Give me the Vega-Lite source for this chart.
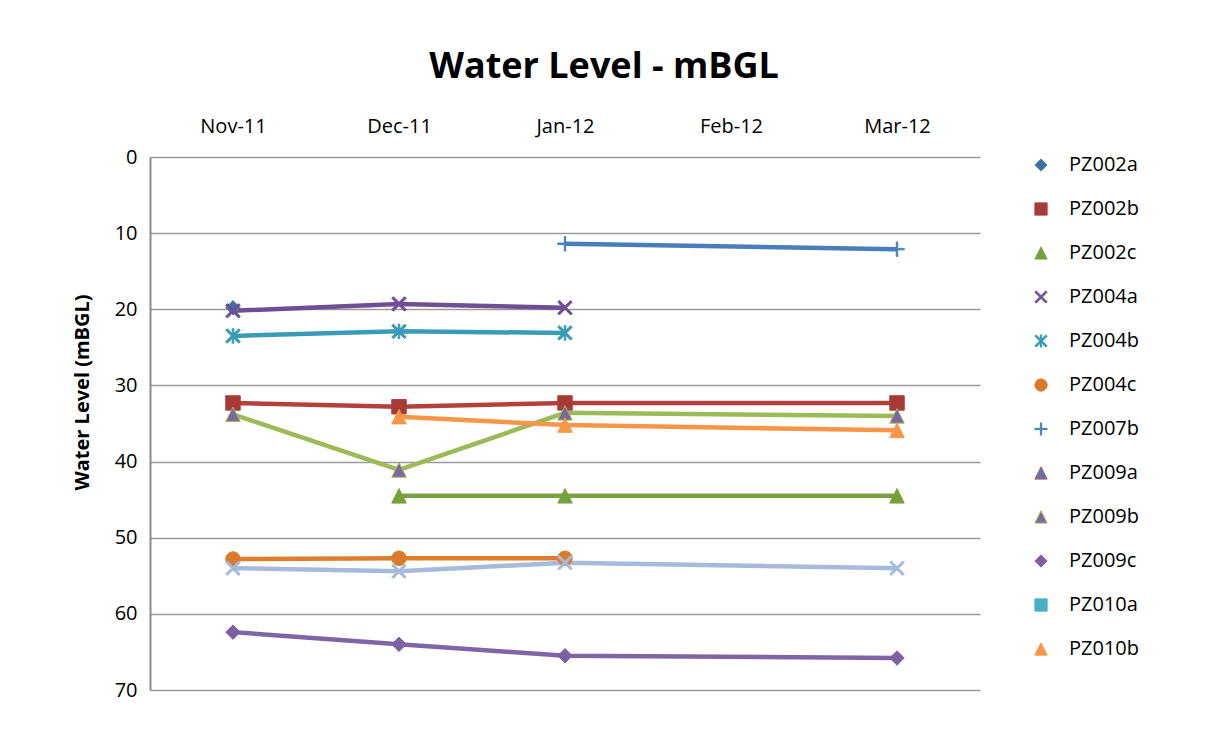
{
  "$schema": "https://vega.github.io/schema/vega-lite/v6.json",
  "width": 830,
  "height": 533,
  "autosize": {"type": "none"},
  "padding": {"left": 150, "top": 157, "right": 234, "bottom": 59},
  "background": "white",
  "title": {"text": "Water Level - mBGL", "fontSize": 36, "font": "Open Sans", "fontWeight": "bold", "color": "#000000", "anchor": "middle", "frame": "group", "dx": 39, "offset": 30},
  "config": {"view": {"stroke": null}, "font": "Open Sans"},
  "data": {"values": [
    {"well": "PZ002a", "month": "Nov-11", "level": 19.8},
    {"well": "PZ002b", "month": "Nov-11", "level": 32.3},
    {"well": "PZ002b", "month": "Dec-11", "level": 32.8},
    {"well": "PZ002b", "month": "Jan-12", "level": 32.3},
    {"well": "PZ002b", "month": "Mar-12", "level": 32.3},
    {"well": "PZ002c", "month": "Dec-11", "level": 44.5},
    {"well": "PZ002c", "month": "Jan-12", "level": 44.5},
    {"well": "PZ002c", "month": "Mar-12", "level": 44.5},
    {"well": "PZ004a", "month": "Nov-11", "level": 20.2},
    {"well": "PZ004a", "month": "Dec-11", "level": 19.3},
    {"well": "PZ004a", "month": "Jan-12", "level": 19.8},
    {"well": "PZ004b", "month": "Nov-11", "level": 23.5},
    {"well": "PZ004b", "month": "Dec-11", "level": 22.9},
    {"well": "PZ004b", "month": "Jan-12", "level": 23.1},
    {"well": "PZ004c", "month": "Nov-11", "level": 52.8},
    {"well": "PZ004c", "month": "Dec-11", "level": 52.7},
    {"well": "PZ004c", "month": "Jan-12", "level": 52.7},
    {"well": "PZ007b", "month": "Jan-12", "level": 11.4},
    {"well": "PZ007b", "month": "Mar-12", "level": 12.1},
    {"well": "PZ009b", "month": "Nov-11", "level": 33.8},
    {"well": "PZ009b", "month": "Dec-11", "level": 41.1},
    {"well": "PZ009b", "month": "Jan-12", "level": 33.6},
    {"well": "PZ009b", "month": "Mar-12", "level": 34.0},
    {"well": "PZ009c", "month": "Nov-11", "level": 62.4},
    {"well": "PZ009c", "month": "Dec-11", "level": 64.0},
    {"well": "PZ009c", "month": "Jan-12", "level": 65.5},
    {"well": "PZ009c", "month": "Mar-12", "level": 65.8},
    {"well": "PZ010b", "month": "Dec-11", "level": 34.1},
    {"well": "PZ010b", "month": "Jan-12", "level": 35.2},
    {"well": "PZ010b", "month": "Mar-12", "level": 35.9},
    {"well": "PZ010c", "month": "Nov-11", "level": 54.0},
    {"well": "PZ010c", "month": "Dec-11", "level": 54.4},
    {"well": "PZ010c", "month": "Jan-12", "level": 53.3},
    {"well": "PZ010c", "month": "Mar-12", "level": 54.0}
  ]},
  "encoding": {
    "x": {
      "field": "month", "type": "ordinal",
      "sort": ["Nov-11", "Dec-11", "Jan-12", "Feb-12", "Mar-12"],
      "scale": {"type": "point", "domain": ["Nov-11", "Dec-11", "Jan-12", "Feb-12", "Mar-12"], "padding": 0.5},
      "axis": {"orient": "top", "title": null, "labelAngle": 0, "labelFontSize": 20, "labelColor": "#000000", "ticks": false, "domain": false, "labelPadding": 21, "grid": false}
    },
    "y": {
      "field": "level", "type": "quantitative",
      "scale": {"domain": [0, 70], "reverse": true, "nice": false},
      "axis": {"values": [0, 10, 20, 30, 40, 50, 60, 70], "title": "Water Level (mBGL)", "titleFontSize": 20, "titleFontWeight": "bold", "titleColor": "#000000", "labelFontSize": 20, "labelColor": "#000000", "ticks": false, "labelPadding": 13, "domainColor": "#8c8c8c", "domainWidth": 2, "gridColor": "#9a9a9a", "gridWidth": 1.5, "titleX": -58, "titleY": 235}
    }
  },
  "layer": [
    {
      "mark": {"type": "line", "strokeWidth": 4.5},
      "encoding": {
        "stroke": {
          "field": "well", "type": "nominal",
          "scale": {
            "domain": ["PZ002a", "PZ002b", "PZ002c", "PZ004a", "PZ004b", "PZ004c", "PZ007b", "PZ009a", "PZ009b", "PZ009c", "PZ010a", "PZ010b", "PZ010c"],
            "range": ["#4A7EBB", "#B3403D", "#7AA23E", "#6F4E96", "#3A9BB6", "#DE7E2C", "#4A7EBB", "#C0504D", "#9BBB59", "#8164A6", "#4BACC6", "#F79646", "#A6BBDB"]
          },
          "legend": {
            "title": null,
            "values": ["PZ002a", "PZ002b", "PZ002c", "PZ004a", "PZ004b", "PZ004c", "PZ007b", "PZ009a", "PZ009b", "PZ009c", "PZ010a", "PZ010b"],
            "orient": "none", "legendX": 881, "legendY": -2,
            "labelFontSize": 20, "labelColor": "#000000", "rowPadding": 24, "symbolSize": 150, "symbolStrokeWidth": 1, "labelOffset": 18,
            "encode": {"symbols": {"update": {
              "shape": {"signal": "scale('shape', datum.value) + 'M-4.1,-0.32H4.1V0.32H-4.1Z'"},
              "fill": {"signal": "scale('stroke', datum.value)"},
              "fillOpacity": {"value": 1},
              "strokeWidth": {"value": 1}
            }}}
          }
        }
      }
    },
    {
      "mark": {"type": "point", "filled": true, "size": 210, "strokeWidth": 1, "opacity": 1},
      "encoding": {
        "stroke": {"field": "well", "type": "nominal"},
        "fill": {
          "field": "well", "type": "nominal", "legend": null,
          "scale": {
            "domain": ["PZ002a", "PZ002b", "PZ002c", "PZ004a", "PZ004b", "PZ004c", "PZ007b", "PZ009a", "PZ009b", "PZ009c", "PZ010a", "PZ010b", "PZ010c"],
            "range": ["#3F6EA8", "#A53A37", "#76A03A", "#6F4E96", "#3A9BB6", "#DB7A2B", "#4A7EBB", "#5E72B5", "#7E66A0", "#7D5FA3", "#4BACC6", "#F79646", "#A6BBDB"]
          }
        },
        "shape": {
          "field": "well", "type": "nominal", "legend": null,
          "scale": {
            "domain": ["PZ002a", "PZ002b", "PZ002c", "PZ004a", "PZ004b", "PZ004c", "PZ007b", "PZ009a", "PZ009b", "PZ009c", "PZ010a", "PZ010b", "PZ010c"],
            "range": [
              "M0,-1L1,0L0,1L-1,0Z",
              "M-1,-1H1V1H-1Z",
              "M0,-1L1,1H-1Z",
              "M0,-0.22L0.78,-1L1,-0.78L0.22,0L1,0.78L0.78,1L0,0.22L-0.78,1L-1,0.78L-0.22,0L-1,-0.78L-0.78,-1Z",
              "M0,-0.22L0.78,-1L1,-0.78L0.22,0L1,0.78L0.78,1L0,0.22L-0.78,1L-1,0.78L-0.22,0L-1,-0.78L-0.78,-1ZM-0.11,-1H0.11V1H-0.11Z",
              "M1,0A1,1,0,1,1,-1,0A1,1,0,1,1,1,0Z",
              "M-0.1,-1H0.1V-0.1H1V0.1H0.1V1H-0.1V0.1H-1V-0.1H-0.1Z",
              "M0,-1L1,1H-1Z",
              "M0,-1L1,1H-1Z",
              "M0,-1L1,0L0,1L-1,0Z",
              "M-1,-1H1V1H-1Z",
              "M0,-1L1,1H-1Z",
              "M0,-0.22L0.78,-1L1,-0.78L0.22,0L1,0.78L0.78,1L0,0.22L-0.78,1L-1,0.78L-0.22,0L-1,-0.78L-0.78,-1Z"
            ]
          }
        }
      }
    }
  ]
}
